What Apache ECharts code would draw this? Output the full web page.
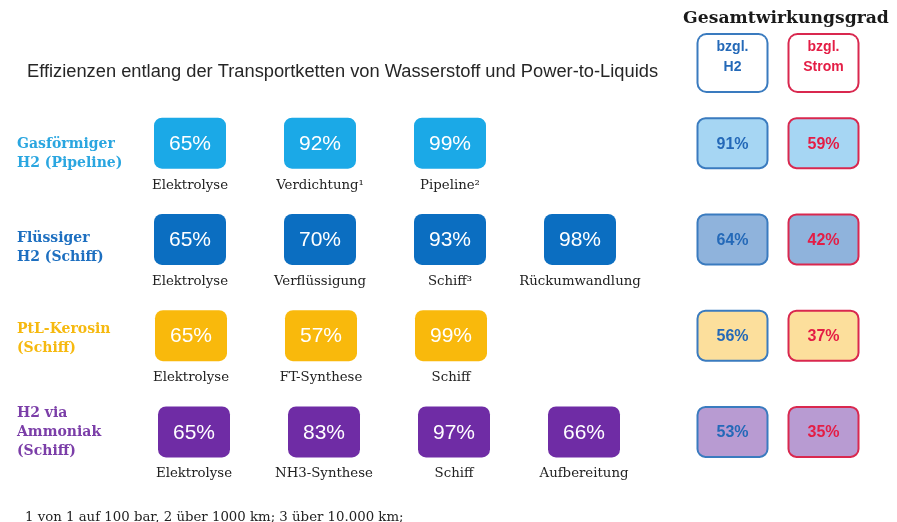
<!DOCTYPE html>
<html><head><meta charset="utf-8">
<script src="https://cdn.jsdelivr.net/npm/echarts/dist/echarts.min.js"></script>
<style>html,body{margin:0;padding:0;background:#fff}#c{width:897px;height:522px}</style>
</head><body><div id="c"></div>
<script>
// ---- data ----
const chains = ['Gasförmiger\nH2 (Pipeline)', 'Flüssiger\nH2 (Schiff)', 'PtL-Kerosin\n(Schiff)', 'H2 via\nAmmoniak\n(Schiff)'];
const stepCols = ['Schritt 1', 'Schritt 2', 'Schritt 3', 'Schritt 4'];
const stepNames = [
  ['Elektrolyse', 'Verdichtung¹', 'Pipeline²'],
  ['Elektrolyse', 'Verflüssigung', 'Schiff³', 'Rückumwandlung'],
  ['Elektrolyse', 'FT-Synthese', 'Schiff'],
  ['Elektrolyse', 'NH3-Synthese', 'Schiff', 'Aufbereitung']
];
const stepValues = [
  [65, 92, 99],
  [65, 70, 93, 98],
  [65, 57, 99],
  [65, 83, 97, 66]
];
const totalCols = ['bzgl.\nH2', 'bzgl.\nStrom'];
const totalH2 = [91, 64, 56, 53];
const totalStrom = [59, 42, 37, 35];
const titleText = 'Effizienzen entlang der Transportketten von Wasserstoff und Power-to-Liquids';
const totalTitle = 'Gesamtwirkungsgrad';
const footnote = '1 von 1 auf 100 bar, 2 über 1000 km; 3 über 10.000 km;';

// ---- styles ----
const rowColors = ['#1ba9e7', '#0b6ec1', '#f9b90c', '#6f2ca5'];
const rowTextColors = ['#2aa6e0', '#1d6fc0', '#f6b90f', '#7b3ea8'];
const rowLabelShift = [11, 8, 3, 0];
const rowShiftX = [0, 0, 1, 4];
const totalFills = ['#a6d6f3', '#8fb3dc', '#fcdf9c', '#b89bd2'];
const colStroke = ['#3a7bbf', '#d9284f'];
const colText = ['#2469b8', '#e41d45'];
const SERIF = '"DejaVu Serif", serif';
const SANS = '"Liberation Sans", Arial, sans-serif';
const LH = 19;

const stepData = [];
stepValues.forEach((row, r) => row.forEach((v, c) => stepData.push([c, r, v])));
const totalData = [];
totalH2.forEach((v, r) => totalData.push([0, r, v]));
totalStrom.forEach((v, r) => totalData.push([1, r, v]));

const rowRich = {};
rowTextColors.forEach((col, i) => {
  rowRich['s' + i] = {fontSize: 1, lineHeight: 2 * rowLabelShift[i], color: 'rgba(0,0,0,0)'};
  rowRich['n' + i] = {color: col, fontFamily: SERIF, fontWeight: 'bold', fontSize: 14, lineHeight: LH, align: 'left'};
});

const chart = echarts.init(document.getElementById('c'), null, {renderer: 'canvas'});
chart.setOption({
  backgroundColor: '#fff',
  animation: false,
  title: [
    {text: titleText, left: 22, top: 58, textStyle: {fontFamily: SANS, fontSize: 18.3, fontWeight: 'normal', color: '#262626'}},
    {text: totalTitle, left: 781, top: 5, textAlign: 'center', textStyle: {fontFamily: SERIF, fontSize: 17.2, fontWeight: 'bold', color: '#1a1a1a'}},
    {text: footnote, left: 20, top: 506, textStyle: {fontFamily: SERIF, fontSize: 13.3, fontWeight: 'normal', color: '#222'}}
  ],
  grid: [
    {left: 125, width: 520, top: 95, height: 385, outerBoundsMode: 'none', containLabel: false},
    {left: 687, width: 182, top: 95, height: 385, outerBoundsMode: 'none', containLabel: false}
  ],
  xAxis: [
    {type: 'category', gridIndex: 0, data: stepCols, show: false},
    {type: 'category', gridIndex: 1, position: 'top',
      data: totalCols.map((t, i) => ({value: t, textStyle: {
        color: colText[i], borderColor: colStroke[i]
      }})),
      axisLine: {show: false}, axisTick: {show: false},
      axisLabel: {margin: 4, interval: 0, fontFamily: SANS, fontWeight: 'bold', fontSize: 14, lineHeight: 20,
        backgroundColor: '#fff', borderWidth: 2, borderRadius: 8, width: 68, height: 38, padding: [4, 0, 14, 0], align: 'center'}
    }
  ],
  yAxis: [
    {type: 'category', gridIndex: 0, inverse: true, data: chains,
      axisLine: {show: false}, axisTick: {show: false},
      axisLabel: {align: 'left', margin: 108, interval: 0, fontFamily: SERIF, fontWeight: 'bold', fontSize: 14, lineHeight: LH,
        formatter: function (value, index) {
          const lines = value.split('\n').map(l => '{n' + index + '|' + l + '}');
          if (rowLabelShift[index] > 0) lines.unshift('{s' + index + '| }');
          return lines.join('\n');
        },
        rich: rowRich}
    },
    {type: 'category', gridIndex: 1, inverse: true, data: chains, show: false}
  ],
  series: [
    {
      type: 'custom', xAxisIndex: 0, yAxisIndex: 0, data: stepData, encode: {x: 0, y: 1},
      renderItem: function (params, api) {
        const c = api.value(0), r = api.value(1), v = api.value(2);
        const p = api.coord([c, r]);
        const x = p[0] + rowShiftX[r];
        return {type: 'group', children: [
          {type: 'rect', shape: {x: x - 36, y: p[1] - 25.5, width: 72, height: 51, r: 8}, style: {fill: rowColors[r]}},
          {type: 'text', x: x, y: p[1] + 1, style: {text: v + '%', fill: '#fff', font: '21px ' + SANS, align: 'center', verticalAlign: 'middle'}},
          {type: 'text', x: x, y: p[1] + 42, style: {text: stepNames[r][c], fill: '#222', font: '13.3px ' + SERIF, align: 'center', verticalAlign: 'middle'}}
        ]};
      }
    },
    {
      type: 'custom', xAxisIndex: 1, yAxisIndex: 1, data: totalData, encode: {x: 0, y: 1},
      renderItem: function (params, api) {
        const c = api.value(0), r = api.value(1), v = api.value(2);
        const p = api.coord([c, r]);
        return {type: 'group', children: [
          {type: 'rect', shape: {x: p[0] - 35, y: p[1] - 25, width: 70, height: 50, r: 8}, style: {fill: totalFills[r], stroke: colStroke[c], lineWidth: 2}},
          {type: 'text', x: p[0], y: p[1] + 1, style: {text: v + '%', fill: colText[c], font: 'bold 16px ' + SANS, align: 'center', verticalAlign: 'middle'}}
        ]};
      }
    }
  ]
});
</script></body></html>
